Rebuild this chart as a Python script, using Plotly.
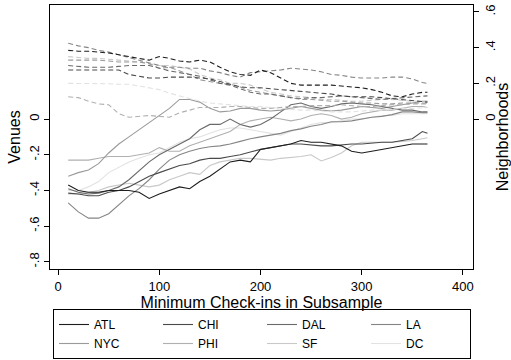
import plotly.graph_objects as go

x = [10, 20, 30, 40, 50, 60, 70, 80, 90, 100, 110, 120, 130, 140, 150, 160, 170, 180,
     190, 200, 210, 220, 230, 240, 250, 260, 270, 280, 290, 300, 310, 320, 330, 340,
     350, 360, 365]

cities = ["ATL", "CHI", "DAL", "LA", "NYC", "PHI", "SF", "DC"]
colors = ["#1e1e1e", "#4a4a4a", "#6a6a6a", "#858585", "#9a9a9a", "#b0b0b0", "#c8c8c8", "#e2e2e2"]

# Venues (left axis, solid)
venues_ATL = [-0.37, -0.40, -0.41, -0.41, -0.40, -0.40, -0.40, -0.41, -0.445, -0.42, -0.40, -0.38,
              -0.39, -0.35, -0.32, -0.28, -0.24, -0.23, -0.24, -0.17, -0.16, -0.15, -0.14, -0.12,
              -0.13, -0.13, -0.14, -0.15, -0.18, -0.19, -0.18, -0.17, -0.16, -0.15, -0.14, -0.14, -0.14]
venues_CHI = [-0.415, -0.42, -0.43, -0.43, -0.41, -0.40, -0.38, -0.35, -0.32, -0.30, -0.28, -0.26,
              -0.25, -0.23, -0.22, -0.22, -0.21, -0.20, -0.185, -0.17, -0.16, -0.15, -0.14, -0.14,
              -0.145, -0.15, -0.15, -0.145, -0.14, -0.14, -0.135, -0.13, -0.13, -0.12, -0.11, -0.07, -0.08]
venues_DAL = [-0.39, -0.41, -0.42, -0.415, -0.40, -0.38, -0.34, -0.29, -0.24, -0.20, -0.17, -0.14,
              -0.11, -0.06, -0.03, -0.03, 0.0, -0.03, -0.045, -0.03, 0.0, 0.04, 0.08, 0.09,
              0.07, 0.06, 0.07, 0.085, 0.09, 0.085, 0.08, 0.07, 0.06, 0.05, 0.05, 0.04, 0.04]
venues_LA = [-0.47, -0.52, -0.555, -0.555, -0.53, -0.48, -0.43, -0.39, -0.34, -0.28, -0.23, -0.20,
             -0.18, -0.165, -0.155, -0.15, -0.14, -0.125, -0.11, -0.10, -0.09, -0.08, -0.065, -0.055,
             -0.04, -0.03, -0.015, -0.015, -0.01, 0.0, 0.01, 0.015, 0.025, 0.04, 0.04, 0.035, 0.035]
venues_NYC = [-0.32, -0.30, -0.285, -0.25, -0.19, -0.14, -0.10, -0.06, -0.02, 0.02, 0.06, 0.11,
              0.11, 0.095, 0.06, 0.04, 0.045, 0.06, 0.06, 0.05, 0.045, 0.05, 0.06, 0.07,
              0.06, 0.05, 0.045, 0.05, 0.06, 0.07, 0.065, 0.06, 0.07, 0.08, 0.09, 0.10, 0.10]
venues_PHI = [-0.23, -0.23, -0.23, -0.22, -0.21, -0.21, -0.21, -0.20, -0.19, -0.16, -0.18, -0.18,
              -0.15, -0.13, -0.11, -0.09, -0.07, -0.03, -0.01, 0.0, 0.01, 0.0, -0.01, 0.0,
              0.02, 0.03, 0.02, 0.0, 0.01, 0.03, 0.04, 0.05, 0.05, 0.06, 0.07, 0.07, 0.065]
venues_SF = [-0.42, -0.42, -0.41, -0.40, -0.38, -0.37, -0.36, -0.37, -0.38, -0.37, -0.34, -0.32,
             -0.30, -0.31, -0.26, -0.24, -0.23, -0.22, -0.22, -0.225, -0.23, -0.22, -0.215, -0.21,
             -0.20, -0.235, -0.215, -0.19, -0.15, -0.13, -0.13, -0.13, -0.13, -0.125, -0.12, -0.11, -0.105]
venues_DC = [-0.40, -0.40, -0.38, -0.35, -0.30, -0.27, -0.24, -0.22, -0.20, -0.19, -0.16, -0.13,
             -0.11, -0.10, -0.08, -0.06, -0.05, -0.05, -0.06, -0.07, -0.08, -0.09, -0.07, -0.05,
             -0.03, -0.02, -0.02, -0.01, 0.0, 0.0, 0.01, 0.02, 0.02, 0.03, 0.03, 0.03, 0.03]

# Neighborhoods (right axis, dashed)
nbhd_ATL = [0.385, 0.38, 0.38, 0.375, 0.37, 0.36, 0.35, 0.34, 0.33, 0.35, 0.34, 0.325,
            0.32, 0.33, 0.32, 0.29, 0.265, 0.25, 0.245, 0.275, 0.26, 0.23, 0.20, 0.19,
            0.19, 0.19, 0.19, 0.185, 0.18, 0.175, 0.165, 0.15, 0.13, 0.125, 0.14, 0.15, 0.15]
nbhd_CHI = [0.275, 0.275, 0.275, 0.275, 0.275, 0.275, 0.25, 0.24, 0.23, 0.23, 0.235, 0.235,
            0.235, 0.23, 0.225, 0.21, 0.195, 0.18, 0.175, 0.175, 0.17, 0.165, 0.16, 0.155,
            0.15, 0.145, 0.14, 0.13, 0.125, 0.125, 0.125, 0.12, 0.115, 0.11, 0.105, 0.10, 0.095]
nbhd_DAL = [0.30, 0.295, 0.29, 0.29, 0.29, 0.295, 0.30, 0.30, 0.30, 0.285, 0.27, 0.26,
            0.25, 0.24, 0.22, 0.20, 0.19, 0.17, 0.15, 0.14, 0.14, 0.13, 0.12, 0.115,
            0.12, 0.12, 0.125, 0.13, 0.125, 0.12, 0.115, 0.11, 0.115, 0.12, 0.125, 0.13, 0.13]
nbhd_LA = [0.425, 0.41, 0.40, 0.385, 0.375, 0.36, 0.345, 0.33, 0.315, 0.30, 0.29, 0.29,
           0.285, 0.285, 0.27, 0.26, 0.245, 0.235, 0.26, 0.265, 0.27, 0.275, 0.285, 0.28,
           0.275, 0.265, 0.25, 0.245, 0.235, 0.23, 0.23, 0.23, 0.235, 0.235, 0.225, 0.205, 0.20]
nbhd_NYC = [0.33, 0.33, 0.33, 0.33, 0.325, 0.32, 0.32, 0.32, 0.31, 0.285, 0.29, 0.27,
            0.25, 0.22, 0.21, 0.20, 0.195, 0.18, 0.16, 0.15, 0.14, 0.13, 0.12, 0.11,
            0.11, 0.105, 0.10, 0.10, 0.095, 0.09, 0.09, 0.085, 0.085, 0.09, 0.09, 0.09, 0.09]
nbhd_PHI = [0.125, 0.12, 0.10, 0.085, 0.08, 0.03, 0.01, 0.015, 0.02, 0.015, 0.01, 0.035,
            0.05, 0.065, 0.065, 0.065, 0.07, 0.07, 0.065, 0.06, 0.06, 0.065, 0.07, 0.07,
            0.075, 0.075, 0.075, 0.08, 0.075, 0.07, 0.07, 0.075, 0.08, 0.08, 0.085, 0.085, 0.085]
nbhd_SF = [0.35, 0.345, 0.34, 0.34, 0.335, 0.33, 0.325, 0.32, 0.31, 0.30, 0.30, 0.29,
           0.28, 0.25, 0.23, 0.22, 0.20, 0.20, 0.19, 0.17, 0.15, 0.14, 0.13, 0.125,
           0.12, 0.11, 0.11, 0.105, 0.10, 0.10, 0.105, 0.11, 0.11, 0.105, 0.10, 0.10, 0.10]
nbhd_DC = [0.20, 0.20, 0.20, 0.20, 0.198, 0.195, 0.195, 0.185, 0.175, 0.165, 0.145, 0.13,
           0.115, 0.10, 0.09, 0.085, 0.08, 0.075, 0.07, 0.07, 0.065, 0.06, 0.055, 0.05,
           0.05, 0.045, 0.04, 0.04, 0.04, 0.045, 0.05, 0.05, 0.055, 0.06, 0.06, 0.065, 0.065]

venues = [venues_ATL, venues_CHI, venues_DAL, venues_LA, venues_NYC, venues_PHI, venues_SF, venues_DC]
nbhds = [nbhd_ATL, nbhd_CHI, nbhd_DAL, nbhd_LA, nbhd_NYC, nbhd_PHI, nbhd_SF, nbhd_DC]

left_ticks = [-0.8, -0.6, -0.4, -0.2, 0]
left_labels = ["-.8", "-.6", "-.4", "-.2", "0"]
right_ticks = [0, 0.2, 0.4, 0.6]
right_labels = ["0", ".2", ".4", ".6"]
x_ticks = [0, 100, 200, 300, 400]

FONT = "Liberation Sans, Arial, Helvetica, sans-serif"

fig = go.Figure()
# draw lighter ones first so darker lines lie on top
for i in reversed(range(len(cities))):
    fig.add_trace(go.Scatter(x=x, y=nbhds[i], mode="lines", yaxis="y2", showlegend=False,
                             line=dict(color=colors[i], width=1.1, dash="5px,3px"),
                             hoverinfo="skip"))
for i in reversed(range(len(cities))):
    fig.add_trace(go.Scatter(x=x, y=venues[i], mode="lines", name=cities[i], legendrank=i + 1,
                             line=dict(color=colors[i], width=1.1)))

yrange = [-0.84, 0.639]
fig.update_layout(
    width=511, height=360,
    margin=dict(l=50, r=38, t=5, b=91, autoexpand=False),
    paper_bgcolor="white", plot_bgcolor="white",
    font=dict(family=FONT, size=13, color="black"),
    xaxis=dict(range=[-8, 410], tickvals=x_ticks, ticks="outside", ticklen=5,
               tickcolor="black", showline=True, linecolor="black", linewidth=1.3,
               mirror=True, showgrid=False, zeroline=False, automargin=False,
               title=dict(text="Minimum Check-ins in Subsample", standoff=0)),
    yaxis=dict(range=yrange, tickvals=left_ticks, ticktext=left_labels, ticks="outside",
               ticklen=5, tickcolor="black", tickangle=-90, showline=True, linecolor="black",
               linewidth=1.3, mirror=True, showgrid=False, zeroline=False, automargin=False,
               title=dict(text="Venues", standoff=2)),
    yaxis2=dict(range=yrange, overlaying="y", side="right", tickvals=right_ticks,
                ticktext=right_labels, ticks="outside", ticklen=5, tickcolor="black",
                tickangle=-90, showline=True, linecolor="black", linewidth=1.3,
                showgrid=False, zeroline=False, automargin=False,
                title=dict(text="Neighborhoods", standoff=6)),
    legend=dict(orientation="h", x=3 / 423, xanchor="left", y=-40 / 264, yanchor="top",
                bordercolor="black", borderwidth=1, entrywidth=59,
                traceorder="normal", font=dict(size=12), tracegroupgap=0),
)

fig.write_html("out.html")
